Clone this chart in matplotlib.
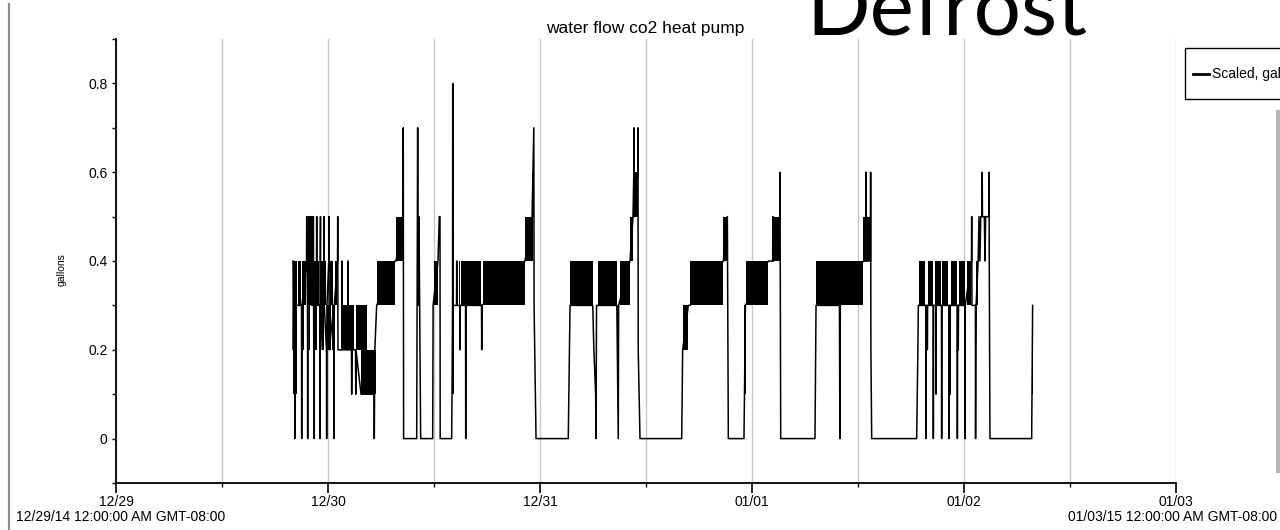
import matplotlib
matplotlib.use('Agg')
import matplotlib.pyplot as plt
import matplotlib.dates as mdates
from matplotlib.ticker import MultipleLocator, FuncFormatter
from matplotlib.patches import Rectangle
from matplotlib.lines import Line2D
import pandas as pd

plt.rcParams['font.family'] = ['Liberation Sans', 'DejaVu Sans']

start = pd.Timestamp('2014-12-29 00:00')
end = pd.Timestamp('2015-01-03 00:00')

# water flow readings, hours since 12/29/14 00:00 -> gallons
c1_t = [20.04, 20.08, 20.12, 20.24, 20.26, 20.30, 21.00, 21.02, 21.05, 21.57, 21.59, 21.62,
        21.68, 21.70, 21.73, 21.80, 21.84, 21.94, 21.96, 21.99, 22.13, 22.15, 22.18, 22.32,
        22.34, 22.37, 22.42, 22.45, 22.70, 22.72, 22.75, 23.07, 23.09, 23.12, 23.15, 23.18,
        23.53, 23.55, 23.58, 23.83, 23.85, 23.88, 24.09, 24.11, 24.14, 24.66, 24.68, 24.71,
        25.08, 25.10, 25.13, 25.56, 25.58, 25.61, 26.24, 26.26, 26.29, 26.66, 26.68, 26.71,
        27.12, 27.14, 27.17, 27.74, 29.22, 29.24, 29.30, 29.51, 31.58, 31.70, 32.48, 32.52,
        32.56, 34.04, 34.15, 34.20, 34.30, 34.38, 34.49, 35.85, 35.90, 36.45, 36.60, 36.68,
        36.70, 38.00]
c1_v = [0.4, 0.2, 0.3, 0.3, 0.0, 0.3, 0.3, 0.0, 0.3, 0.4, 0.5, 0.4,
        0.3, 0.0, 0.4, 0.5, 0.4, 0.4, 0.5, 0.4, 0.4, 0.5, 0.3, 0.4,
        0.5, 0.3, 0.0, 0.3, 0.4, 0.5, 0.3, 0.3, 0.0, 0.4, 0.5, 0.2,
        0.4, 0.5, 0.3, 0.2, 0.0, 0.3, 0.4, 0.5, 0.2, 0.3, 0.0, 0.3,
        0.4, 0.5, 0.2, 0.2, 0.4, 0.2, 0.2, 0.4, 0.2, 0.2, 0.1, 0.2,
        0.2, 0.1, 0.2, 0.1, 0.1, 0.0, 0.2, 0.3, 0.4, 0.4, 0.5, 0.7,
        0.0, 0.0, 0.7, 0.3, 0.5, 0.3, 0.0, 0.0, 0.3, 0.4, 0.5, 0.5,
        0.0, 0.0]

c2_t = [38.04, 38.10, 38.12, 38.15, 38.55, 38.57, 38.60, 38.92, 38.94, 38.97, 39.57, 39.59,
        39.62, 41.38, 41.40, 41.43, 46.30, 47.10, 47.30, 47.33, 47.55, 51.20]
c2_v = [0.1, 0.3, 0.8, 0.3, 0.3, 0.4, 0.3, 0.3, 0.2, 0.3, 0.3, 0.0,
        0.3, 0.3, 0.2, 0.3, 0.4, 0.5, 0.7, 0.3, 0.0, 0.0]

c3_t = [51.40, 53.97, 54.10, 54.30, 54.34, 54.40, 56.70, 56.80, 56.86, 56.90, 58.19, 58.53,
        58.62, 58.64, 58.70, 59.07, 59.09, 59.12, 59.32, 64.04]
c3_v = [0.3, 0.3, 0.2, 0.1, 0.0, 0.3, 0.3, 0.1, 0.0, 0.3, 0.4, 0.5,
        0.6, 0.7, 0.5, 0.6, 0.7, 0.2, 0.0, 0.0]

c4_t = [64.15, 64.79, 64.98, 68.75, 69.21, 69.32, 71.09]
c4_v = [0.2, 0.3, 0.3, 0.4, 0.5, 0.0, 0.0]

c5_t = [71.15, 71.25, 73.85, 74.34, 74.36, 74.40, 75.15, 75.17, 75.25, 79.13]
c5_v = [0.1, 0.3, 0.4, 0.4, 0.5, 0.4, 0.5, 0.6, 0.0, 0.0]

c6_t = [79.25, 81.90, 81.93, 81.96, 82.00, 84.60, 84.89, 84.91, 84.94, 85.41, 85.43, 85.46,
        85.55, 90.64]
c6_v = [0.3, 0.3, 0.1, 0.0, 0.3, 0.4, 0.4, 0.6, 0.4, 0.4, 0.6, 0.2,
        0.0, 0.0]

c7_t = [90.78, 90.83, 91.68, 91.70, 91.73, 91.83, 91.85, 91.88, 92.51, 92.53, 92.56, 92.81,
        92.83, 92.86, 93.45, 93.47, 93.50, 94.28, 94.30, 94.33, 94.40, 94.42, 94.45, 95.23,
        95.25, 95.28, 95.33, 95.35, 95.38, 96.09, 96.11, 96.14, 96.85, 96.87, 96.90, 97.29,
        97.31, 97.34, 97.37, 97.60, 97.70, 97.80, 97.90, 98.04, 98.06, 98.09, 98.30, 98.38,
        98.45, 98.81, 98.83, 98.86, 98.94, 103.66, 103.70, 103.74, 103.77]
c7_v = [0.2, 0.3, 0.3, 0.0, 0.3, 0.3, 0.2, 0.3, 0.3, 0.0, 0.3, 0.3,
        0.1, 0.3, 0.3, 0.0, 0.3, 0.3, 0.0, 0.3, 0.3, 0.1, 0.3, 0.3,
        0.0, 0.3, 0.3, 0.2, 0.3, 0.3, 0.0, 0.3, 0.4, 0.5, 0.3, 0.3,
        0.0, 0.2, 0.3, 0.4, 0.5, 0.4, 0.5, 0.5, 0.6, 0.5, 0.5, 0.4,
        0.5, 0.5, 0.6, 0.4, 0.0, 0.0, 0.1, 0.2, 0.3]

# stretches where the reading flips every sample (drawn solid black)
band_start = [20.05, 20.60, 21.10, 21.75, 22.45, 22.80, 23.20, 23.60, 24.20, 24.75,
              21.10, 21.80, 22.50, 23.30, 23.85, 24.50, 25.50, 27.20, 27.74, 29.55,
              21.55, 21.78, 22.12, 22.30, 22.68, 23.05,
              31.70, 34.22, 35.95,
              38.00, 38.50, 38.80, 39.10, 41.50, 46.30, 47.10,
              51.40, 54.57, 56.75, 57.06, 58.20, 58.55,
              64.15, 64.98, 68.75,
              71.10, 71.32, 74.50,
              79.25, 81.85, 84.60,
              90.91, 91.89, 92.72, 93.55, 94.49, 95.38, 96.30, 97.40, 103.66]
band_end = [20.45, 21.00, 21.50, 22.10, 22.70, 23.00, 23.50, 23.80, 24.60, 25.00,
            21.30, 22.00, 22.70, 23.60, 24.30, 24.80, 27.00, 28.40, 29.45, 31.58,
            21.70, 22.00, 22.22, 22.40, 22.76, 23.18,
            32.48, 34.40, 36.45,
            38.30, 38.65, 39.00, 41.35, 46.30, 47.20, 47.30,
            53.97, 56.68, 56.86, 58.19, 58.53, 59.09,
            64.79, 68.75, 69.21,
            71.30, 73.85, 75.15,
            84.60, 81.96, 85.43,
            91.58, 92.50, 93.36, 94.23, 95.22, 96.08, 96.75, 97.62, 103.77]
band_low = [0.1, 0.3, 0.3, 0.3, 0.3, 0.3, 0.3, 0.3, 0.3, 0.3,
            0.2, 0.2, 0.2, 0.2, 0.2, 0.2, 0.2, 0.2, 0.1, 0.3,
            0.4, 0.4, 0.4, 0.4, 0.4, 0.4,
            0.4, 0.4, 0.3,
            0.1, 0.3, 0.3, 0.3, 0.3, 0.4, 0.5,
            0.3, 0.3, 0.1, 0.3, 0.4, 0.5,
            0.2, 0.3, 0.4,
            0.1, 0.3, 0.4,
            0.3, 0.1, 0.4,
            0.3, 0.3, 0.3, 0.3, 0.3, 0.3, 0.3, 0.3, 0.1]
band_high = [0.4, 0.4, 0.4, 0.4, 0.4, 0.4, 0.4, 0.4, 0.4, 0.4,
             0.3, 0.3, 0.3, 0.3, 0.3, 0.3, 0.3, 0.3, 0.2, 0.4,
             0.5, 0.5, 0.5, 0.5, 0.5, 0.5,
             0.5, 0.5, 0.4,
             0.3, 0.4, 0.4, 0.4, 0.4, 0.5, 0.6,
             0.4, 0.4, 0.3, 0.4, 0.5, 0.6,
             0.3, 0.4, 0.5,
             0.3, 0.4, 0.5,
             0.4, 0.3, 0.5,
             0.4, 0.4, 0.4, 0.4, 0.4, 0.4, 0.4, 0.4, 0.2]

t_hours = c1_t + c2_t + c3_t + c4_t + c5_t + c6_t + c7_t
flow = c1_v + c2_v + c3_v + c4_v + c5_v + c6_v + c7_v


def to_num(hours):
    return mdates.date2num((start + pd.to_timedelta(hours, unit='h')).to_pydatetime())


fig = plt.figure(figsize=(12.8, 5.3), dpi=100)
ax = fig.add_axes([116 / 1280, 1 - 483 / 530, 1060 / 1280, 444 / 530])

ax.plot(to_num(t_hours), flow, color='black', lw=1.1, zorder=3)
for t0, t1, lo, hi in zip(band_start, band_end, band_low, band_high):
    ax.fill_between(to_num([t0, t1]), lo, hi, color='black', lw=0, zorder=3)

ax.set_xlim(mdates.date2num(start.to_pydatetime()), mdates.date2num(end.to_pydatetime()))
ax.set_ylim(-0.1, 0.9)

ax.xaxis.set_major_locator(mdates.DayLocator())
ax.xaxis.set_major_formatter(mdates.DateFormatter('%m/%d'))
ax.xaxis.set_minor_locator(mdates.HourLocator(byhour=[12]))
ax.yaxis.set_major_locator(MultipleLocator(0.2))
ax.yaxis.set_minor_locator(MultipleLocator(0.1))
ax.yaxis.set_major_formatter(FuncFormatter(lambda v, p: '0' if abs(v) < 1e-9 else f'{v:.1f}'))

ax.grid(True, axis='x', which='both', color='#c8c8c8', lw=1.0, zorder=0)
for s in ['top', 'right']:
    ax.spines[s].set_visible(False)
for s in ['left', 'bottom']:
    ax.spines[s].set_linewidth(1.3)

ax.tick_params(axis='x', which='major', length=7, width=1.2, pad=1.5, labelsize=10)
ax.tick_params(axis='x', which='minor', length=3, width=1.0)
ax.tick_params(axis='y', which='major', length=3, width=1.0, pad=3, labelsize=10)
ax.tick_params(axis='y', which='minor', length=3, width=1.0)

fig.text(62 / 1280, 1 - 270 / 530, 'gallons', rotation=90, ha='center', va='center', fontsize=7.5)
fig.text(645 / 1280, 1 - 29 / 530, 'water flow co2 heat pump', ha='center', va='center', fontsize=12.5)
fig.text(16 / 1280, 1 - 517 / 530, '12/29/14 12:00:00 AM GMT-08:00', ha='left', va='center', fontsize=10)
fig.text(1277 / 1280, 1 - 517 / 530, '01/03/15 12:00:00 AM GMT-08:00', ha='right', va='center', fontsize=10)

# legend box, cut by the right edge
fig.patches.append(Rectangle((1185 / 1280, 1 - 99 / 530), 120 / 1280, 51 / 530, transform=fig.transFigure,
                             fill=False, edgecolor='black', lw=1.0))
fig.lines.append(Line2D([1193 / 1280, 1209 / 1280], [1 - 74 / 530] * 2, transform=fig.transFigure,
                        color='black', lw=2))
fig.text(1212 / 1280, 1 - 74 / 530, 'Scaled, gallons', ha='left', va='center', fontsize=10)

# slide edges
fig.lines.append(Line2D([9 / 1280] * 2, [0, 1 - 4 / 530], transform=fig.transFigure, color='#8c8c8c', lw=1.6))
fig.patches.append(Rectangle((1276 / 1280, 1 - 473 / 530), 6 / 1280, 363 / 530, transform=fig.transFigure,
                             color='#b5b5b5', lw=0))

defrost = fig.text(806 / 1280, 1 - 36 / 530, 'Defrost', ha='left', va='baseline', fontsize=64, family='Lato')
fig.canvas.draw()
w = defrost.get_window_extent().width
defrost.set_fontsize(64 * 281 / w)

fig.savefig('out.png', dpi=100)
